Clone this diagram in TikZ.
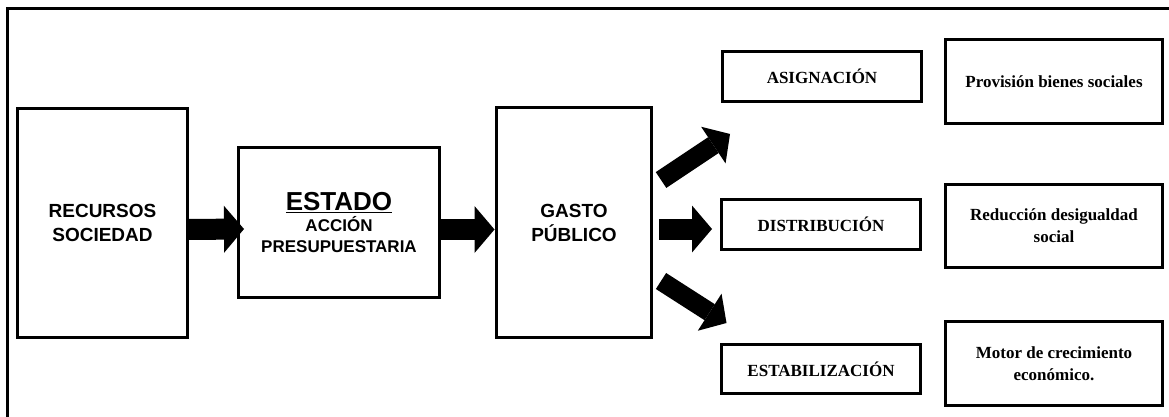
\documentclass[tikz,border=0pt]{standalone}
\usepackage{fontspec}
\setmainfont{Liberation Serif}
\setsansfont{Liberation Sans}
\usetikzlibrary{arrows.meta,calc}
\begin{document}
\begin{tikzpicture}[x=1pt,y=-1pt,
  box/.style={draw, line width=3pt, rectangle, inner sep=0pt, outer sep=0pt, align=center},
  lbox/.style={box, font=\sffamily\bfseries\fontsize{19}{24}\selectfont},
  rbox/.style={box, font=\rmfamily\bfseries\fontsize{17}{22}\selectfont},
  barrow/.style={line width=21pt, -{Triangle[length=20pt,width=47pt,line width=0pt]}},
  darrow/.style={line width=19pt, -{Triangle[length=20pt,width=44pt,line width=0pt]}},
]
\useasboundingbox (0,0) rectangle (1169,417);
\clip (0,0) rectangle (1169,417);
\draw[line width=3pt] (1180,9) -- (7,9) -- (7,430);

\node[lbox, minimum width=170pt, minimum height=229pt] (rec) at (102.5,223) {RECURSOS\\SOCIEDAD};
\node[box, minimum width=201pt, minimum height=150pt, font=\sffamily\bfseries\fontsize{17}{21}\selectfont] (est) at (339,222.5)
  {{\fontsize{26}{28}\selectfont\underline{ESTADO}}\\ACCIÓN\\PRESUPUESTARIA};
\node[lbox, minimum width=155pt, minimum height=230pt] (gas) at (574,222.5) {GASTO\\PÚBLICO};

\node[rbox, minimum width=199pt, minimum height=50pt] (asi) at (822,76.5) {ASIGNACIÓN};
\node[rbox, minimum width=199pt, minimum height=50pt] (dis) at (821,224.5) {DISTRIBUCIÓN};
\node[rbox, minimum width=199pt, minimum height=49pt] (sta) at (821,369) {ESTABILIZACIÓN};

\node[rbox, minimum width=217pt, minimum height=84pt] (pro) at (1054,81.5) {Provisión bienes sociales};
\node[rbox, minimum width=217pt, minimum height=83pt] (red) at (1054,226) {Reducción desigualdad\\social};
\node[rbox, minimum width=217pt, minimum height=84pt] (mot) at (1054,363.5) {Motor de crecimiento\\económico.};

\draw[barrow] ([yshift=-6.5pt]rec.east) -- ([xshift=5.5pt,yshift=-6.5pt]est.west);
\draw[barrow] ([yshift=-7pt]est.east) -- ([xshift=-2pt,yshift=-7pt]gas.west);
\coordinate (gm) at ($(gas.east)+(7.5,6.5)$);
\draw[barrow] (gm) -- ([xshift=-9.5pt,yshift=-4.5pt]dis.west);

\coordinate (gu) at ($(gas.east)+(9.5,-42.5)$);
\coordinate (au) at ($(asi.south west)+(7.5,32.5)$);
\draw[darrow] (gu) -- (au);

\coordinate (gd) at ($(gas.east)+(9.5,58.5)$);
\coordinate (ad) at ($(sta.north west)+(5,-21.5)$);
\draw[darrow] (gd) -- (ad);
\end{tikzpicture}
\end{document}
